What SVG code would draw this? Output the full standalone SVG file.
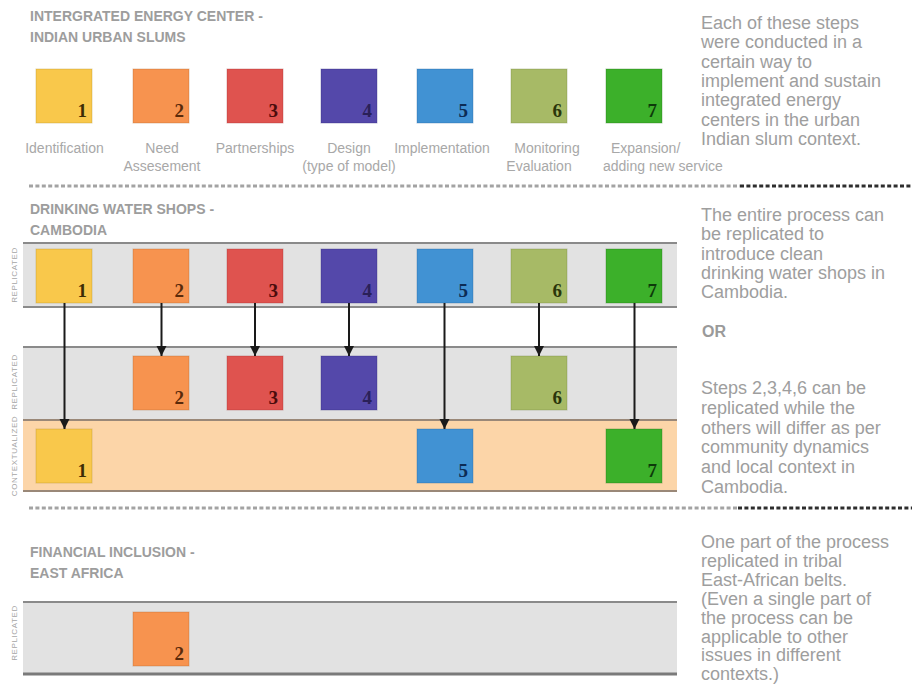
<svg xmlns="http://www.w3.org/2000/svg" width="912" height="686" viewBox="0 0 912 686">
<style>
  .h{font-family:"Liberation Sans",Arial,sans-serif;font-weight:bold;font-size:14px;fill:#9d9d9d}
  .lbl{font-family:"Liberation Sans",Arial,sans-serif;font-size:14px;fill:#a8a8a8;text-anchor:middle}
  .lbl-l{font-family:"Liberation Sans",Arial,sans-serif;font-size:14px;fill:#a8a8a8}
  .note{font-family:"Liberation Sans",Arial,sans-serif;font-size:18px;fill:#9e9e9e}
  .or{font-family:"Liberation Sans",Arial,sans-serif;font-size:16px;font-weight:bold;fill:#9a9a9a}
  .side{font-family:"Liberation Sans",Arial,sans-serif;font-size:8px;fill:#a5a5a5;text-anchor:middle;letter-spacing:0.6px}
  .num{font-family:"Liberation Serif","Times New Roman",serif;font-weight:bold;font-size:19px;text-anchor:end}
  .sq{stroke-width:1;stroke-opacity:0.35}
  .band{fill:#e2e2e2}
  .bandc{fill:#fcd5a8}
  .rule{stroke:#8a8a8a;stroke-width:2}
  .dg{stroke:#a3a3a3;stroke-width:3;stroke-dasharray:4 2.4}
  .dk{stroke:#2e2e2e;stroke-width:3;stroke-dasharray:4 2.4}
  .arr{stroke:#1a1a1a;stroke-width:2;fill:none;marker-end:url(#ah)}
  .c1{fill:#f9c84b;stroke:#b08a20}.n1{fill:#3d2c05}
  .c2{fill:#f7934f;stroke:#b0602a}.n2{fill:#5a2a0a}
  .c3{fill:#df534f;stroke:#a03030}.n3{fill:#4a0c0c}
  .c4{fill:#5448aa;stroke:#302878}.n4{fill:#2a2058}
  .c5{fill:#4192d3;stroke:#25609a}.n5{fill:#0c2c55}
  .c6{fill:#a7ba66;stroke:#70803a}.n6{fill:#2a360a}
  .c7{fill:#3cb02a;stroke:#237018}.n7{fill:#0d3a0a}
</style>
<defs>
  <marker id="ah" markerUnits="userSpaceOnUse" markerWidth="10" markerHeight="12" refX="10" refY="5" orient="auto">
    <path d="M0,0 L10,5 L0,10 Z" fill="#1a1a1a"/>
  </marker>
</defs>
<rect width="912" height="686" fill="#ffffff"/>

<!-- Section 1 -->
<g id="section1">
  <text class="h" x="30" y="21">INTERGRATED ENERGY CENTER -</text>
  <text class="h" x="30" y="42">INDIAN URBAN SLUMS</text>
  <g id="top-1"><rect class="sq c1" x="36" y="69" width="56" height="54"/><text class="num n1" x="87" y="117">1</text><text class="lbl" x="64.5" y="153">Identification</text></g>
  <g id="top-2"><rect class="sq c2" x="133" y="69" width="56" height="54"/><text class="num n2" x="184" y="117">2</text><text class="lbl" x="162" y="153">Need</text><text class="lbl" x="162" y="171">Assesement</text></g>
  <g id="top-3"><rect class="sq c3" x="227" y="69" width="56" height="54"/><text class="num n3" x="278" y="117">3</text><text class="lbl" x="255" y="153">Partnerships</text></g>
  <g id="top-4"><rect class="sq c4" x="321" y="69" width="56" height="54"/><text class="num n4" x="372" y="117">4</text><text class="lbl" x="349" y="153">Design</text><text class="lbl" x="349" y="171">(type of model)</text></g>
  <g id="top-5"><rect class="sq c5" x="417" y="69" width="56" height="54"/><text class="num n5" x="468" y="117">5</text><text class="lbl" x="442" y="153">Implementation</text></g>
  <g id="top-6"><rect class="sq c6" x="511" y="69" width="56" height="54"/><text class="num n6" x="562" y="117">6</text><text class="lbl" x="547" y="153">Monitoring</text><text class="lbl" x="539" y="171">Evaluation</text></g>
  <g id="top-7"><rect class="sq c7" x="606" y="69" width="56" height="54"/><text class="num n7" x="657" y="117">7</text><text class="lbl-l" x="611" y="153">Expansion/</text><text class="lbl-l" x="603" y="171">adding new service</text></g>
  <g id="note1">
    <text class="note" x="701" y="29">Each of these steps</text>
    <text class="note" x="701" y="48.3">were conducted in a</text>
    <text class="note" x="701" y="67.6">certain way to</text>
    <text class="note" x="701" y="86.9">implement and sustain</text>
    <text class="note" x="701" y="106.2">integrated energy</text>
    <text class="note" x="701" y="125.5">centers in the urban</text>
    <text class="note" x="701" y="144.8">Indian slum context.</text>
  </g>
</g>

<g id="divider1">
  <line class="dg" x1="29" y1="186" x2="740" y2="186"/>
  <line class="dk" x1="740" y1="186" x2="912" y2="186"/>
</g>

<!-- Section 2 -->
<g id="section2">
  <text class="h" x="30" y="214">DRINKING WATER SHOPS -</text>
  <text class="h" x="30" y="235">CAMBODIA</text>
  <rect class="band" x="23" y="243" width="654" height="64"/>
  <rect class="band" x="23" y="347" width="654" height="73"/>
  <rect class="bandc" x="23" y="420" width="654" height="71"/>
  <line class="rule" x1="23" y1="243" x2="677" y2="243"/>
  <line class="rule" x1="23" y1="307" x2="677" y2="307"/>
  <line class="rule" x1="23" y1="347" x2="677" y2="347"/>
  <line class="rule" x1="23" y1="420" x2="677" y2="420" style="stroke:#9a8878"/>
  <line class="rule" x1="23" y1="491" x2="677" y2="491" style="stroke:#9a8878"/>
  <text class="side" transform="translate(17,275) rotate(-90)">REPLICATED</text>
  <text class="side" transform="translate(17,382) rotate(-90)">REPLICATED</text>
  <text class="side" transform="translate(17,456) rotate(-90)">CONTEXTUALIZED</text>

  <g id="r1-1"><rect class="sq c1" x="36" y="249" width="56" height="54"/><text class="num n1" x="87" y="297">1</text></g>
  <g id="r1-2"><rect class="sq c2" x="133" y="249" width="56" height="54"/><text class="num n2" x="184" y="297">2</text></g>
  <g id="r1-3"><rect class="sq c3" x="227" y="249" width="56" height="54"/><text class="num n3" x="278" y="297">3</text></g>
  <g id="r1-4"><rect class="sq c4" x="321" y="249" width="56" height="54"/><text class="num n4" x="372" y="297">4</text></g>
  <g id="r1-5"><rect class="sq c5" x="417" y="249" width="56" height="54"/><text class="num n5" x="468" y="297">5</text></g>
  <g id="r1-6"><rect class="sq c6" x="511" y="249" width="56" height="54"/><text class="num n6" x="562" y="297">6</text></g>
  <g id="r1-7"><rect class="sq c7" x="606" y="249" width="56" height="54"/><text class="num n7" x="657" y="297">7</text></g>

  <g id="r2-2"><rect class="sq c2" x="133" y="356" width="56" height="54"/><text class="num n2" x="184" y="404">2</text></g>
  <g id="r2-3"><rect class="sq c3" x="227" y="356" width="56" height="54"/><text class="num n3" x="278" y="404">3</text></g>
  <g id="r2-4"><rect class="sq c4" x="321" y="356" width="56" height="54"/><text class="num n4" x="372" y="404">4</text></g>
  <g id="r2-6"><rect class="sq c6" x="511" y="356" width="56" height="54"/><text class="num n6" x="562" y="404">6</text></g>

  <g id="r3-1"><rect class="sq c1" x="36" y="429" width="56" height="54"/><text class="num n1" x="87" y="477">1</text></g>
  <g id="r3-5"><rect class="sq c5" x="417" y="429" width="56" height="54"/><text class="num n5" x="468" y="477">5</text></g>
  <g id="r3-7"><rect class="sq c7" x="606" y="429" width="56" height="54"/><text class="num n7" x="657" y="477">7</text></g>

  <g id="note2">
    <text class="note" x="701" y="221">The entire process can</text>
    <text class="note" x="701" y="240.3">be replicated to</text>
    <text class="note" x="701" y="259.6">introduce clean</text>
    <text class="note" x="701" y="278.9">drinking water shops in</text>
    <text class="note" x="701" y="298.2">Cambodia.</text>
    <text class="or" x="702" y="337">OR</text>
    <text class="note" x="701" y="394">Steps 2,3,4,6 can be</text>
    <text class="note" x="701" y="413.8">replicated while the</text>
    <text class="note" x="701" y="433.6">others will differ as per</text>
    <text class="note" x="701" y="453.4">community dynamics</text>
    <text class="note" x="701" y="473.2">and local context in</text>
    <text class="note" x="701" y="493">Cambodia.</text>
  </g>
</g>

<g id="connectors">
  <line class="arr" x1="64.5" y1="303" x2="64.5" y2="429"/>
  <line class="arr" x1="161.5" y1="303" x2="161.5" y2="356"/>
  <line class="arr" x1="255" y1="303" x2="255" y2="356"/>
  <line class="arr" x1="349" y1="303" x2="349" y2="356"/>
  <line class="arr" x1="444.5" y1="303" x2="444.5" y2="429"/>
  <line class="arr" x1="539" y1="303" x2="539" y2="356"/>
  <line class="arr" x1="634.5" y1="303" x2="634.5" y2="429"/>
</g>

<g id="divider2">
  <line class="dg" x1="29" y1="508" x2="738" y2="508"/>
  <line class="dk" x1="738" y1="508" x2="912" y2="508"/>
</g>

<!-- Section 3 -->
<g id="section3">
  <text class="h" x="30" y="557">FINANCIAL INCLUSION -</text>
  <text class="h" x="30" y="578">EAST AFRICA</text>
  <rect class="band" x="23" y="602" width="654" height="72"/>
  <line class="rule" x1="23" y1="602" x2="677" y2="602"/>
  <line class="rule" x1="23" y1="674" x2="677" y2="674" style="stroke-width:3;stroke:#7a7a7a"/>
  <text class="side" transform="translate(17,633) rotate(-90)">REPLICATED</text>
  <g id="r4-2"><rect class="sq c2" x="133" y="612" width="56" height="54"/><text class="num n2" x="184" y="660">2</text></g>
  <g id="note3">
    <text class="note" x="701" y="548">One part of the process</text>
    <text class="note" x="701" y="566.9">replicated in tribal</text>
    <text class="note" x="701" y="585.8">East-African belts.</text>
    <text class="note" x="701" y="604.7">(Even a single part of</text>
    <text class="note" x="701" y="623.6">the process can be</text>
    <text class="note" x="701" y="642.5">applicable to other</text>
    <text class="note" x="701" y="661.4">issues in different</text>
    <text class="note" x="701" y="680.3">contexts.)</text>
  </g>
</g>
</svg>
